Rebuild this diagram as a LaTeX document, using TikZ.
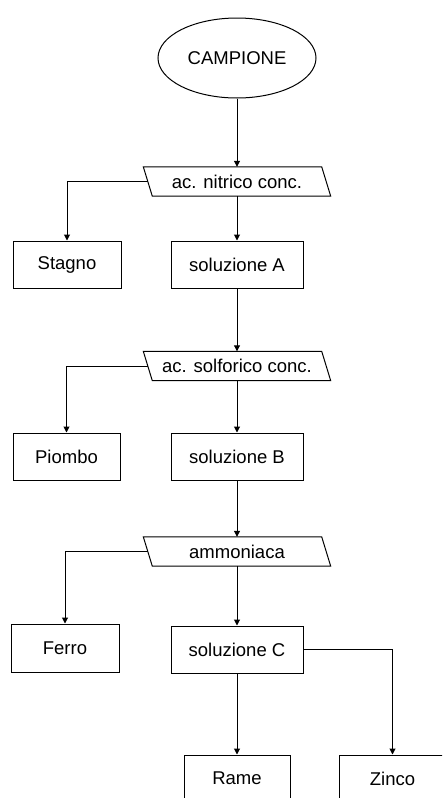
\documentclass[tikz,border=0pt]{standalone}
\usepackage{fontspec}
\setmainfont{Liberation Sans}
\usetikzlibrary{shapes.geometric,arrows.meta}
\tikzset{
  box/.style={draw, line width=1pt, rectangle, minimum height=47pt, inner sep=0pt, font=\fontsize{18.5}{22}\selectfont},
  para/.style={rectangle, minimum width=187pt, minimum height=29pt, inner sep=0pt, font=\fontsize{18.5}{22}\selectfont},
  paraline/.style={draw, line width=1pt, line join=miter},
  arr/.style={draw, line width=1pt, -{Triangle[length=6pt,width=6pt]}},
  link/.style={draw, line width=1pt}
}
\newcommand{\drawpara}[1]{%
  \draw[paraline] (#1.north west) -- ([xshift=-9pt]#1.north east) -- (#1.south east) -- ([xshift=9pt]#1.south west) -- cycle;}
\begin{document}
\begin{tikzpicture}[x=1pt,y=-1pt]
\useasboundingbox (0,0) rectangle (442,798);
\clip (0,0) rectangle (442,798);
\fill[white] (0,0) rectangle (442,798);

\node[draw, line width=1pt, ellipse, minimum width=158pt, minimum height=80pt, inner sep=0pt, font=\fontsize{18.5}{22}\selectfont] (camp) at (237,58) {CAMPIONE};

\node[para] (p1) at (237,181.5) {ac. nitrico conc.};
\drawpara{p1}
\node[box, minimum width=108pt] (stagno) at (67,264.5) {Stagno};
\node[box, minimum width=132pt] (solA) at (237,264.5) {soluzione A};

\node[para] (p2) at (237,366) {ac. solforico conc.};
\drawpara{p2}
\node[box, minimum width=107pt] (piombo) at (66.5,456.5) {Piombo};
\node[box, minimum width=132pt] (solB) at (237,456.5) {soluzione B};

\node[para] (p3) at (237,551.5) {ammoniaca};
\drawpara{p3}
\node[box, minimum width=108pt, minimum height=48pt] (ferro) at (65,648) {Ferro};
\node[box, minimum width=132pt] (solC) at (237,649.5) {soluzione C};

\node[box, minimum width=106pt] (rame) at (237,778.5) {Rame};
\node[box, minimum width=107pt] (zinco) at (392.5,778.5) {Zinco};

\draw[arr] (camp.south) -- (p1.north);
\draw[arr] ([xshift=4.5pt]p1.west) -| (stagno.north);
\draw[arr] (p1.south) -- (solA.north);

\draw[arr] (solA.south) -- (p2.north);
\draw[arr] ([xshift=4.5pt]p2.west) -| (piombo.north);
\draw[arr] (p2.south) -- (solB.north);

\draw[arr] (solB.south) -- (p3.north);
\draw[arr] ([xshift=4.5pt]p3.west) -| (ferro.north);
\draw[arr] (p3.south) -- (solC.north);

\draw[arr] (solC.south) -- (rame.north);
\draw[arr] (solC.east) -| (zinco.north);
\end{tikzpicture}
\end{document}
